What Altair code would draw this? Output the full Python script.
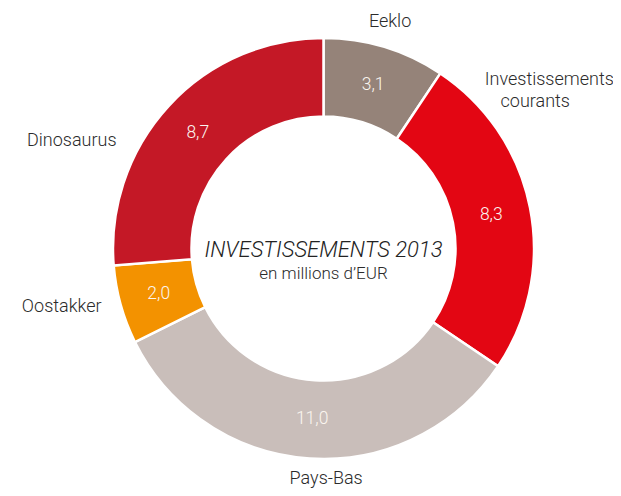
import altair as alt
import pandas as pd

categories = ["Eeklo", "Investissements courants", "Pays-Bas", "Oostakker", "Dinosaurus"]
values = [3.1, 8.3, 11.0, 2.0, 8.7]
value_labels = ["3,1", "8,3", "11,0", "2,0", "8,7"]
colors = ["#958379", "#E30613", "#C9BEBA", "#F39200", "#C41826"]
title_line1 = "INVESTISSEMENTS 2013"
title_line2 = "en millions d\u2019EUR"

# outer label lines: (category, text line)
outer_lines = [
    ("Eeklo", "Eeklo"),
    ("Investissements courants", "Investissements"),
    ("Investissements courants", "courants"),
    ("Pays-Bas", "Pays-Bas"),
    ("Oostakker", "Oostakker"),
    ("Dinosaurus", "Dinosaurus"),
]
# style offsets (px) of each outer label line from its slice's label anchor
outer_offsets = [(17, -63), (58, -135), (44, -113), (14, 60), (-97, 13), (-126, 8)]

df = pd.DataFrame({
    "cat": categories,
    "value": values,
    "lab": value_labels,
    "idx": list(range(len(categories))),
})

CX, CY = 315.5, 240.5
FONT = "Roboto"

base = alt.Chart(df).encode(
    theta=alt.Theta("value:Q", stack=True),
    order=alt.Order("idx:Q"),
    x=alt.value(CX),
    y=alt.value(CY),
)

arcs = base.mark_arc(outerRadius=210.5, innerRadius=132, stroke="white", strokeWidth=2.5).encode(
    color=alt.Color("cat:N", scale=alt.Scale(domain=categories, range=colors), legend=None)
)

vals = base.mark_text(radius=171, font=FONT, fontSize=17.5, fontWeight=300, color="#FBF6F0").encode(
    text="lab:N"
)

layers = [arcs, vals]
for (cat, line), (dx, dy) in zip(outer_lines, outer_offsets):
    layers.append(
        base.mark_text(radius=171, dx=dx, dy=dy, font=FONT, fontSize=18, fontWeight=300,
                       color="#2b2b2b")
        .encode(text=alt.condition(alt.datum.cat == cat, alt.value(line), alt.value("")))
    )

title1 = alt.Chart(pd.DataFrame({"t": [title_line1]})).mark_text(
    font=FONT, fontSize=22, fontStyle="italic", fontWeight=300, color="#222222"
).encode(text="t:N", x=alt.value(CX), y=alt.value(CY + 1))
title2 = alt.Chart(pd.DataFrame({"t": [title_line2]})).mark_text(
    font=FONT, fontSize=17, fontWeight=300, color="#2b2b2b"
).encode(text="t:N", x=alt.value(CX), y=alt.value(CY + 25))

chart = alt.layer(*layers, title1, title2).properties(
    width=605, height=480, padding=0, autosize=alt.AutoSizeParams(type="none")
).configure_view(stroke=None)

chart.save("out.html", embed_options={"renderer": "svg", "actions": False})
